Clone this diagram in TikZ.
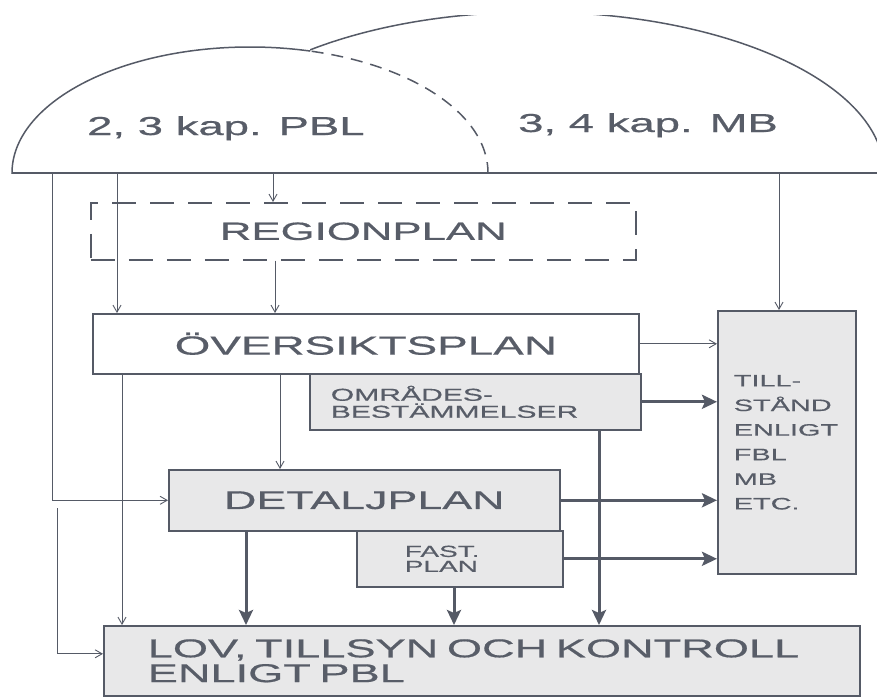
\documentclass[tikz,border=0pt]{standalone}
\usepackage{fontspec}
\setmainfont{Liberation Sans}[FakeStretch=1.75, FakeBold=0.6]
\usetikzlibrary{arrows.meta, positioning}
\definecolor{ink}{HTML}{555A66}
\definecolor{txt}{HTML}{585D68}
\definecolor{plate}{HTML}{E8E8E9}

\begin{document}
\begin{tikzpicture}[x=1pt, y=-1pt,
        planbox/.style={draw=ink, line width=1.6pt, text=txt, inner sep=0pt, anchor=north west},
        greybox/.style={planbox, fill=plate},
        thinarrow/.style={draw=ink, line width=0.9pt, -{Straight Barb[length=7pt,width=8pt]}},
        thickarrow/.style={draw=ink, line width=3pt, -{Stealth[length=15pt,width=14pt,inset=3pt]}}]
        \useasboundingbox (0,0) rectangle (877,696);
        \fill[white] (0,0) rectangle (877,696);
        \begin{scope}
                \clip (0,0) rectangle (310,173);
                \draw[ink, line width=1.5pt] (250,173) ellipse [x radius=238, y radius=126];
        \end{scope}
        \begin{scope}
                \clip (310,0) rectangle (877,173);
                \draw[ink, line width=1.5pt, dash pattern=on 12pt off 8pt] (250,173) ellipse [x radius=238, y radius=126];
        \end{scope}
        \begin{scope}
                \clip (310,15.5) rectangle (877,173);
                \draw[ink, line width=1.5pt] (535,173) ellipse [x radius=349, y radius=161];
        \end{scope}
        \draw[ink, line width=1.5pt] (12,173) -- (877,173);
        \node[text=txt, anchor=base west, inner sep=0pt, font=\fontsize{26}{30}\selectfont] (pbl) at (87,135) {2, 3 kap. PBL};
        \node[text=txt, anchor=base west, inner sep=0pt, font=\fontsize{26}{30}\selectfont] (mb) at (518,132) {3, 4 kap. MB};
        \coordinate (dA) at (52,173);
        \coordinate (dB) at (117,173);
        \coordinate (dC) at (273,173);
        \coordinate (dD) at (779,173);
        \coordinate (lowleft) at (57,508);
        \node[planbox, dash pattern=on 24pt off 14pt, minimum width=545pt, minimum height=57pt, font=\fontsize{25}{30}\selectfont] (region) at (90,202) {REGIONPLAN};
        \node[greybox, minimum height=263pt, text width=106pt, inner xsep=16pt, align=left, font=\fontsize{16.5}{24.6}\selectfont] (tillstand) at (717,310) {TILL-\\STÅND\\ENLIGT\\FBL\\MB\\ETC.};
        \node[greybox, minimum height=56pt, text width=289pt, inner xsep=21pt, align=left, font=\fontsize{17.2}{17}\selectfont] (omrades) at (309,373) {OMRÅDES-\\BESTÄMMELSER};
        \node[planbox, fill=white, minimum width=546pt, minimum height=60pt, font=\fontsize{26.2}{30}\selectfont] (oversikt) at (92,313) {ÖVERSIKTSPLAN};
        \node[greybox, minimum width=391pt, minimum height=61pt, font=\fontsize{25.6}{30}\selectfont] (detalj) at (168,469) {DETALJPLAN};
        \node[greybox, minimum height=56pt, text width=110pt, inner xsep=48pt, align=left, font=\fontsize{16}{15}\selectfont] (fast) at (356,530) {FAST.\\PLAN};
        \node[greybox, minimum height=70pt, text width=668pt, inner xsep=44pt, align=left, font=\fontsize{25.8}{24.8}\selectfont] (lov) at (103,625) {LOV, TILLSYN OCH KONTROLL\\ENLIGT PBL};
        \coordinate (ovA) at ([xshift=30pt]oversikt.south west);
        \coordinate (ovB) at ([xshift=188pt]oversikt.south west);
        \coordinate (reA) at ([xshift=185pt]region.south west);
        \coordinate (deA) at ([xshift=78pt]detalj.south west);
        \coordinate (faA) at ([xshift=98pt]fast.south west);
        \coordinate (omA) at ([xshift=290pt]omrades.south west);
        \draw[thinarrow] (dC) -- (dC |- region.north);
        \draw[thinarrow] (dB) -- (dB |- oversikt.north);
        \draw[thinarrow] (reA) -- (reA |- oversikt.north);
        \draw[thinarrow] (dD) -- (dD |- tillstand.north);
        \draw[thinarrow] (dA) |- (detalj.west);
        \draw[thinarrow] (lowleft) |- ([yshift=7pt]lov.west);
        \draw[thinarrow] (ovA) -- (ovA |- lov.north);
        \draw[thinarrow] (ovB) -- (ovB |- detalj.north);
        \draw[thinarrow] (oversikt.east) -- (oversikt.east -| tillstand.west);
        \draw[thickarrow] (omrades.east) -- (omrades.east -| tillstand.west);
        \draw[thickarrow] (detalj.east) -- (detalj.east -| tillstand.west);
        \draw[thickarrow] (fast.east) -- (fast.east -| tillstand.west);
        \draw[thickarrow] (deA) -- (deA |- lov.north);
        \draw[thickarrow] (faA) -- (faA |- lov.north);
        \draw[thickarrow] (omA) -- (omA |- lov.north);
\end{tikzpicture}
\end{document}
